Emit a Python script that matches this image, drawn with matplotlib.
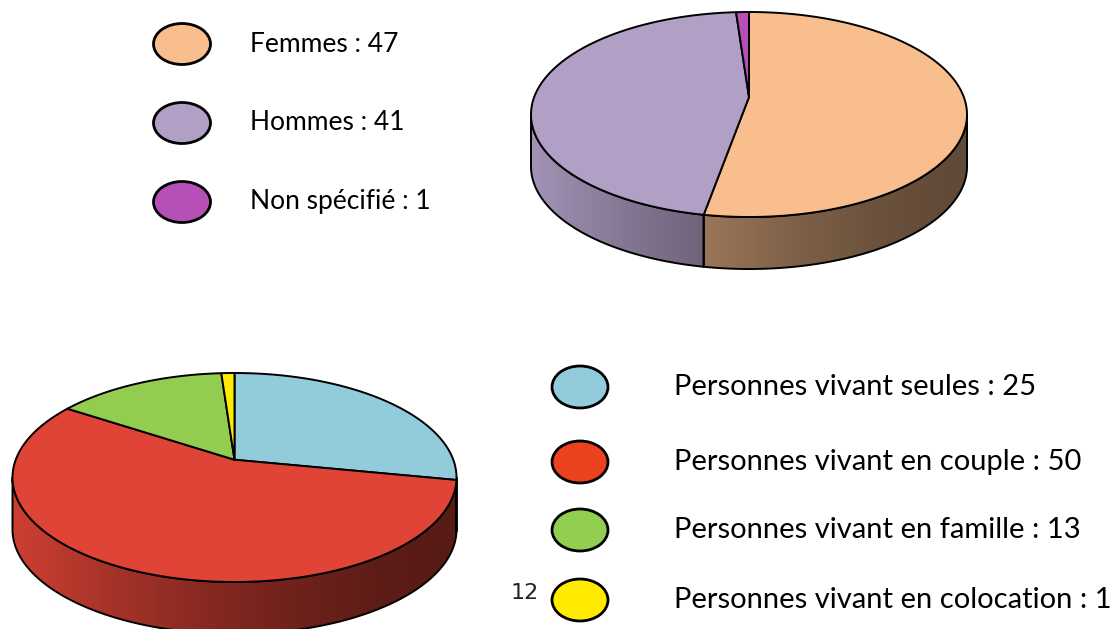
import numpy as np
import matplotlib.pyplot as plt
from matplotlib.patches import Polygon, Ellipse

# data
genre_labels = ['Femmes', 'Hommes', 'Non spécifié']
genre_values = [47, 41, 1]
genre_colors = ['#F9BE8E', '#B19FC6', '#B650B7']

foyer_labels = ['Personnes vivant seules', 'Personnes vivant en couple',
                'Personnes vivant en famille', 'Personnes vivant en colocation']
foyer_values = [25, 50, 13, 1]
foyer_colors = ['#92CBDA', '#E04437', '#92CD50', '#FFEB00']
foyer_legend_colors = ['#92CBDB', '#EC4220', '#92CF50', '#FFEB00']

K = 0.17  # perspective strength


def proj(theta):
    u = np.sin(theta)
    v = np.cos(theta)
    w = 1 + K * v
    return u / w, v / w


tt = np.linspace(0, 2 * np.pi, 3000)
PX, PY = proj(tt)
xh = PX.max()
ymid = (PY.max() + PY.min()) / 2
yh = (PY.max() - PY.min()) / 2


def to_px(theta, cx, cy, a, b):
    x, y = proj(theta)
    return cx + a * x / xh, cy - b * (y - ymid) / yh


def pie3d(ax, values, colors, cx, cy, a, b, depth):
    total = float(sum(values))
    bounds = np.concatenate([[0], np.cumsum(values)]) / total * 2 * np.pi
    th_r = np.arccos(-K)
    th_l = 2 * np.pi - th_r
    x0, x1 = cx - a, cx + a
    ccx, ccy = cx, cy + b * ymid / yh
    xs = np.linspace(0, 1, 400)
    fac = 0.39 + 0.53 * (1 - xs) ** 1.6
    for i, (t0, t1) in enumerate(zip(bounds[:-1], bounds[1:])):
        s0, s1 = max(t0, th_r), min(t1, th_l)
        if s1 > s0:
            ts = np.linspace(s0, s1, 300)
            px, py = to_px(ts, cx, cy, a, b)
            verts = np.column_stack([np.r_[px, px[::-1]],
                                     np.r_[py, py[::-1] + depth]])
            wall = Polygon(verts, closed=True, facecolor='none',
                           edgecolor='black', lw=1.4, zorder=3)
            ax.add_patch(wall)
            rgb = np.array(plt.matplotlib.colors.to_rgb(colors[i]))
            grad = np.clip(rgb[None, :] * fac[:, None], 0, 1)[None, :, :]
            im = ax.imshow(grad, extent=(x0, x1, cy + b + depth + 5, cy - b),
                           aspect='auto', zorder=2, interpolation='bilinear')
            im.set_clip_path(wall)
        n = max(int((t1 - t0) / (2 * np.pi) * 600), 4)
        ts = np.linspace(t0, t1, n)
        px, py = to_px(ts, cx, cy, a, b)
        verts = np.column_stack([np.r_[ccx, px], np.r_[ccy, py]])
        ax.add_patch(Polygon(verts, closed=True, facecolor=colors[i],
                             edgecolor='black', lw=1.4, zorder=4,
                             joinstyle='round'))


fig = plt.figure(figsize=(11.15, 6.29), dpi=100)
ax = fig.add_axes([0, 0, 1, 1])
ax.axis('off')

pie3d(ax, genre_values, genre_colors, 749, 114.5, 218, 102.5, 52)
pie3d(ax, foyer_values, foyer_colors, 234.5, 477.5, 222, 104.5, 52)

font = 'Lato'

# top legend
for i, (lab, val) in enumerate(zip(genre_labels, genre_values)):
    y = 44 + i * 79
    ax.add_patch(Ellipse((182, y), 57, 41, facecolor=genre_colors[i],
                         edgecolor='black', lw=2, zorder=5))
    ax.text(250, y, f'{lab} : {val}', fontsize=19, family=font,
            va='center', ha='left', color='black')

# bottom legend
leg_y = [387, 462, 530, 600]
for i, (lab, val) in enumerate(zip(foyer_labels, foyer_values)):
    y = leg_y[i]
    ax.add_patch(Ellipse((580, y), 56, 42, facecolor=foyer_legend_colors[i],
                         edgecolor='black', lw=2, zorder=5))
    ax.text(674, y, f'{lab} : {val}', fontsize=21, family=font,
            va='center', ha='left', color='black')

ax.text(525, 593, '12', fontsize=16, family='DejaVu Sans', va='center',
        ha='center', color='#222222')

ax.set_xlim(0, 1115)
ax.set_ylim(629, 0)
fig.savefig('out.png', dpi=100, facecolor='white')
